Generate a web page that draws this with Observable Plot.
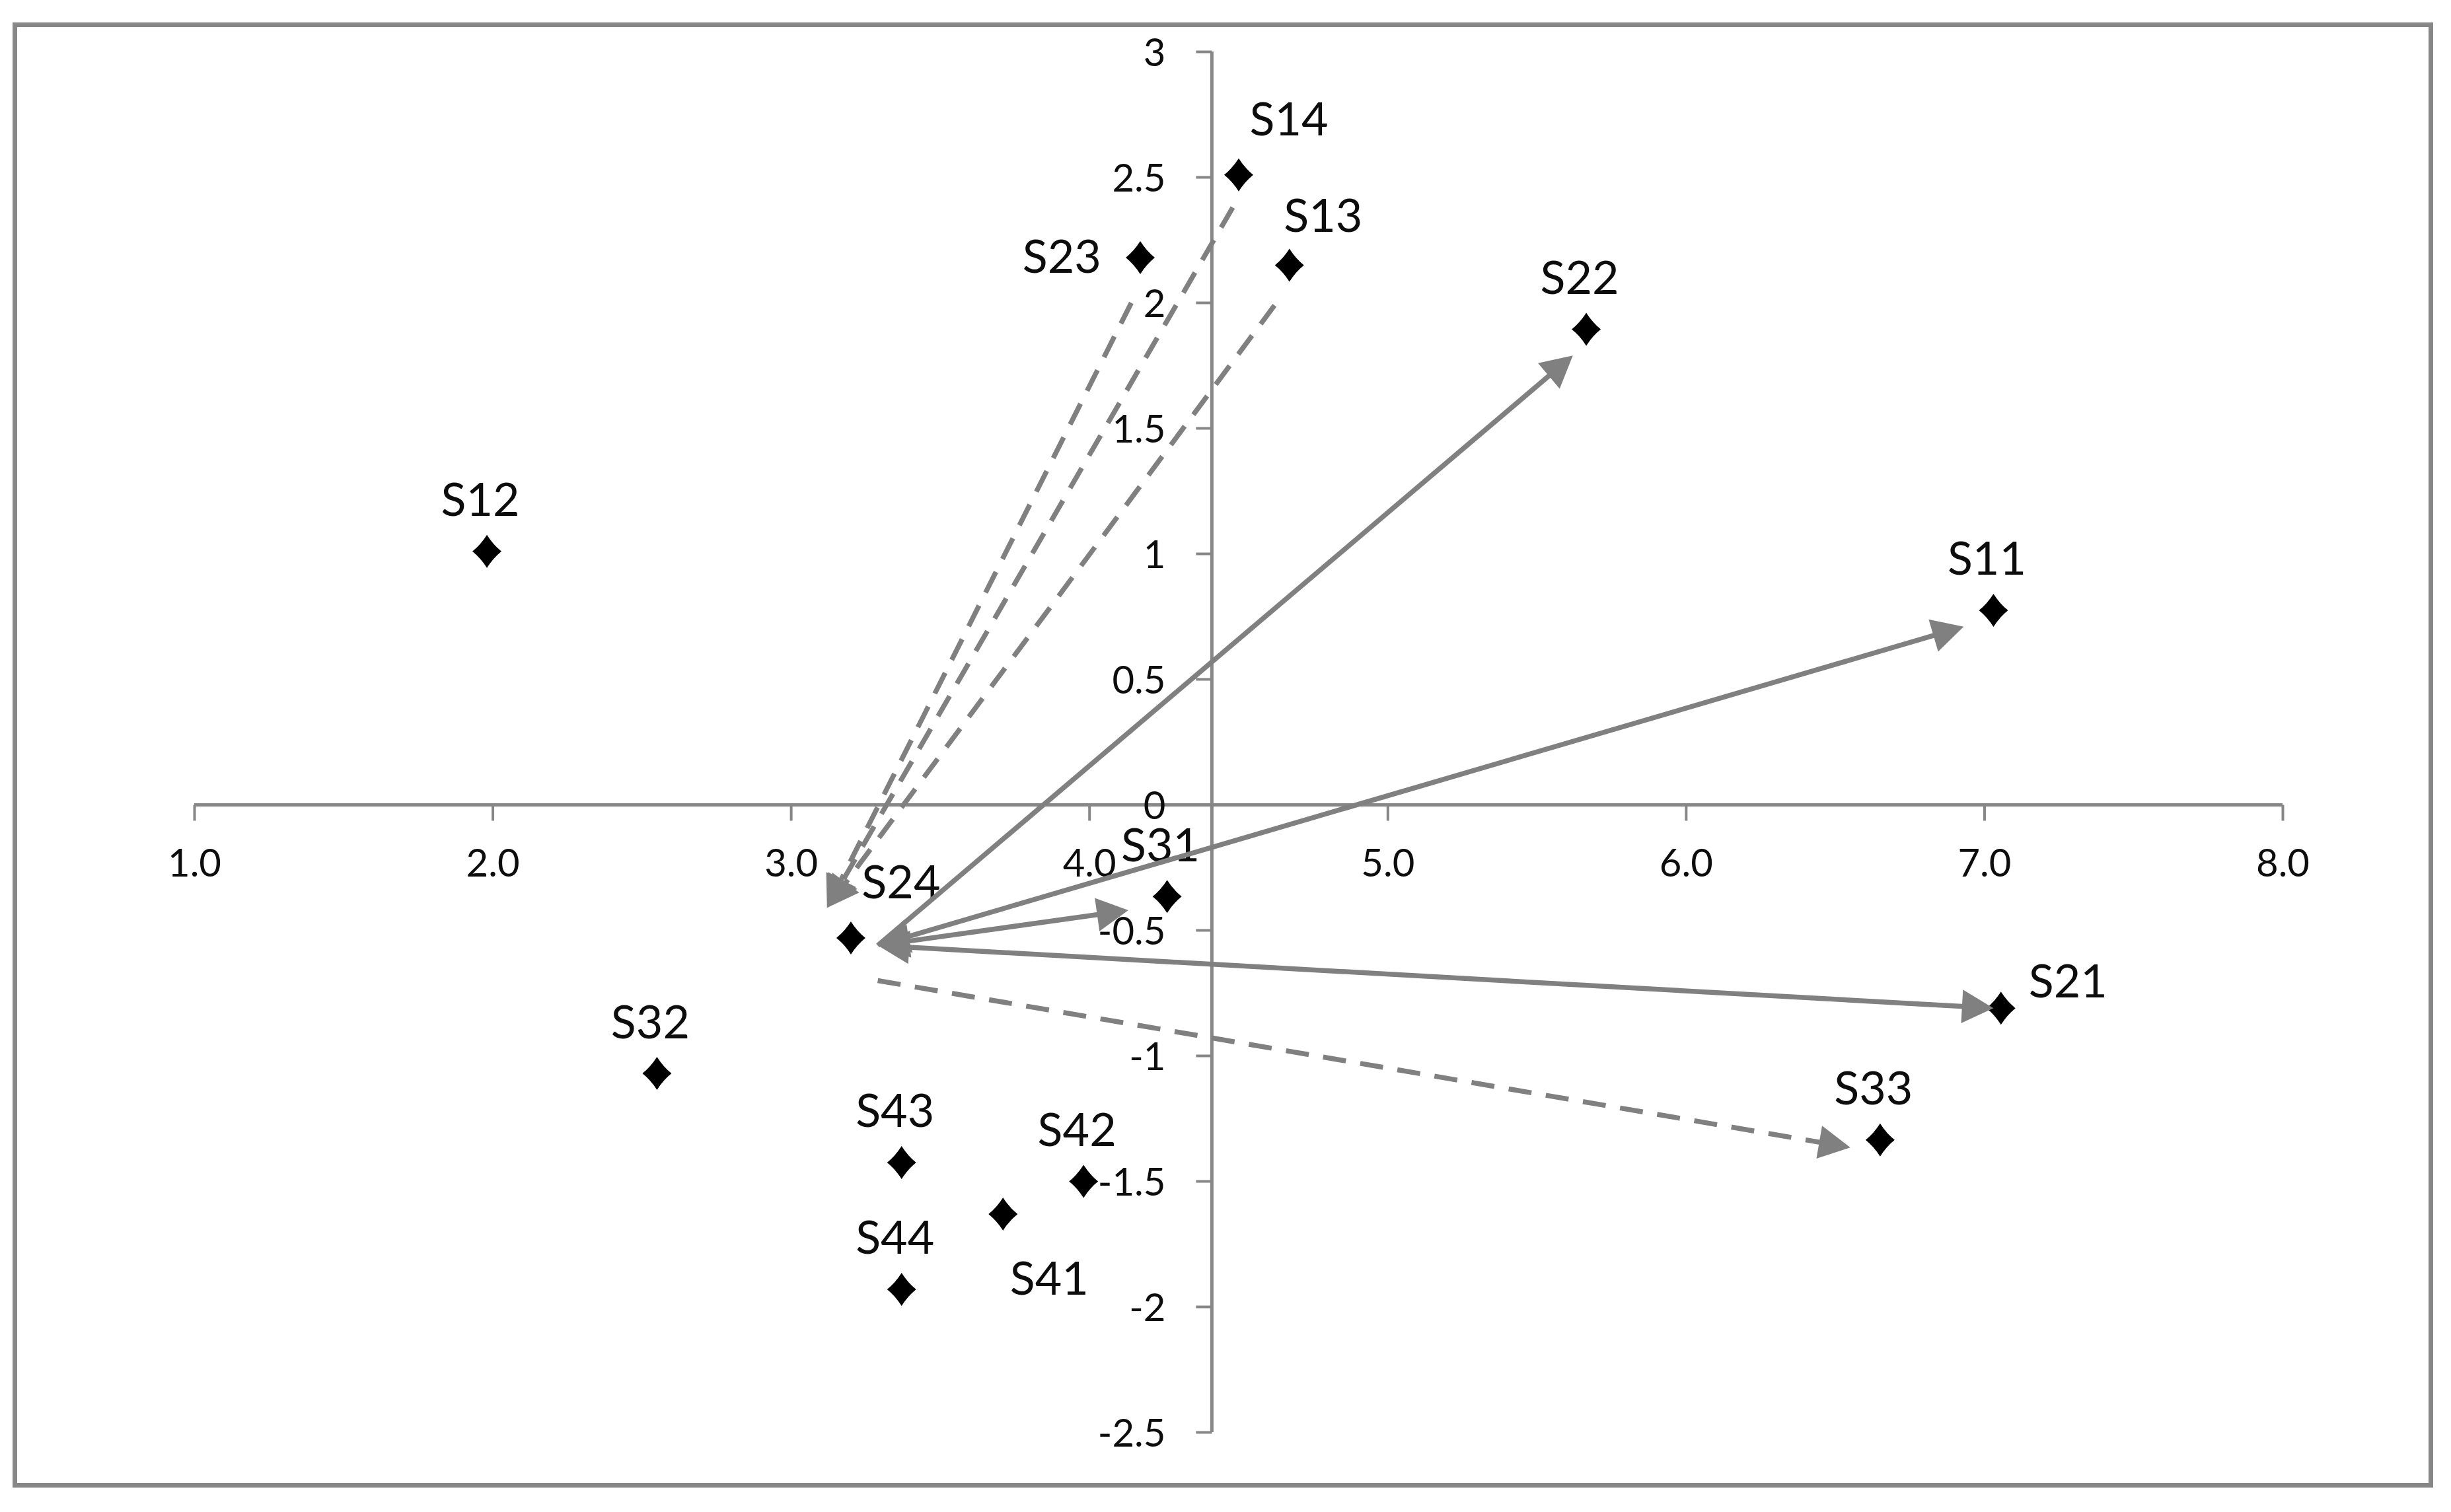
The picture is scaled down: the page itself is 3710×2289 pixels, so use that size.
<!DOCTYPE html>
<html>
<head>
<meta charset="utf-8">
<script src="https://cdn.jsdelivr.net/npm/d3@7"></script>
<script src="https://cdn.jsdelivr.net/npm/@observablehq/plot@0.6"></script>
<style>
  html, body { margin: 0; padding: 0; background: #ffffff; }
  #chart svg { display: block; }
</style>
</head>
<body>
<div id="chart"></div>
<script>
// ---------- data ----------
const pointNames = ["S11", "S12", "S13", "S14", "S21", "S22", "S23", "S24", "S31", "S32", "S33", "S41", "S42", "S43", "S44"];
const pointX     = [7.03,  1.98,  4.67,  4.50,  7.055, 5.665, 4.17,  3.20,  4.26,  2.55,  6.65,  3.71,  3.98,  3.37,  3.37];
const pointY     = [0.775, 1.01,  2.15,  2.51, -0.81,  1.895, 2.18, -0.53, -0.365,-1.07, -1.335,-1.63, -1.50, -1.425,-1.93];

// arrows (start -> end); "double" = arrowhead at both ends
const arrowFromX = [3.29,  3.29,  3.29,  3.29,  4.48,  4.14,  4.62,  3.29];
const arrowFromY = [-0.56, -0.56, -0.56, -0.56, 2.38,  2.00,  1.99, -0.70];
const arrowToX   = [5.62,  6.93,  4.13,  7.03,  3.12,  3.12,  3.12,  6.55];
const arrowToY   = [1.79,  0.71, -0.42, -0.81, -0.41, -0.41, -0.41, -1.365];
const arrowKind  = ["solid", "double", "double", "double", "dashed", "dashed", "dashed", "dashed"];

const xTicks      = [1, 2, 3, 4, 5, 6, 7, 8];
const xTickLabels = ["1.0", "2.0", "3.0", "4.0", "5.0", "6.0", "7.0", "8.0"];
const yTicks      = [3, 2.5, 2, 1.5, 1, 0.5, 0, -0.5, -1, -1.5, -2, -2.5];
const yTickLabels = ["3", "2.5", "2", "1.5", "1", "0.5", "0", "-0.5", "-1", "-1.5", "-2", "-2.5"];
const xDomain = [1, 8];
const yDomain = [-2.5, 3];
const yAxisCrossesAt = 4.41;   // vertical axis crosses the horizontal axis here
const xAxisCrossesAt = 0;

// ---------- tables built from the arrays ----------
const points = pointNames.map((name, i) => ({name, x: pointX[i], y: pointY[i]}));
const arrows = arrowKind.map((kind, i) => ({kind, x1: arrowFromX[i], y1: arrowFromY[i], x2: arrowToX[i], y2: arrowToY[i]}));
const xTickData = xTicks.map((v, i) => ({v, label: xTickLabels[i]}));
const yTickData = yTicks.map((v, i) => ({v, label: yTickLabels[i]}));

// label placement (style, not data)
const placement = {S14: "upRight", S24: "upRight", S13: "upRightNear", S23: "left", S21: "right", S41: "downRight"};
const place = d => placement[d.name] || "above";

// ---------- styles ----------
const axisColor = "#878787";
const arrowColor = "#808080";
const textColor = "#0d0d0d";
const labelSize = 70;
const tickSize = 58;

// custom symbols
const tickDown = {draw(ctx) { ctx.moveTo(0, 0); ctx.lineTo(0, 24); }};
const tickLeft = {draw(ctx) { ctx.moveTo(0, 0); ctx.lineTo(-24, 0); }};
const diamond = {draw(ctx) {
  ctx.moveTo(0, -25);
  ctx.quadraticCurveTo(9.5, -10, 22, 0);
  ctx.quadraticCurveTo(9.5, 10, 0, 25);
  ctx.quadraticCurveTo(-9.5, 10, -22, 0);
  ctx.quadraticCurveTo(-9.5, -10, 0, -25);
  ctx.closePath();
}};

const labelMark = (group, opts) => Plot.text(points.filter(d => place(d) === group), {
  x: "x", y: "y", text: "name", fill: textColor, fontSize: labelSize, ...opts
});

const headOpts = {x1: "x1", y1: "y1", x2: "x2", y2: "y2", stroke: "none", fill: arrowColor, strokeWidth: 1.5, headLength: 54, headAngle: 56};

const chart = Plot.plot({
  width: 3710,
  height: 2289,
  marginLeft: 22,
  marginTop: 37,
  marginRight: 31,
  marginBottom: 41,
  x: {domain: xDomain, range: [294, 3455], axis: null},
  y: {domain: yDomain, range: [2168, 78], axis: null},
  style: {background: "#ffffff", fontFamily: "Lato, 'Open Sans', sans-serif", overflow: "visible"},
  marks: [
    Plot.frame({stroke: axisColor, strokeWidth: 7}),
    // axes crossing inside the plot
    Plot.ruleY([xAxisCrossesAt], {x1: xDomain[0], x2: xDomain[1], stroke: axisColor, strokeWidth: 5}),
    Plot.ruleX([yAxisCrossesAt], {y1: yDomain[0], y2: yDomain[1], stroke: axisColor, strokeWidth: 5}),
    Plot.dot(xTickData, {x: "v", y: () => xAxisCrossesAt, symbol: tickDown, fill: "none", stroke: axisColor, strokeWidth: 4}),
    Plot.dot(yTickData, {x: () => yAxisCrossesAt, y: "v", symbol: tickLeft, fill: "none", stroke: axisColor, strokeWidth: 4}),
    Plot.text(xTickData, {x: "v", y: () => xAxisCrossesAt, text: "label", dy: 90, fontSize: tickSize, fill: textColor}),
    Plot.text(yTickData, {x: () => yAxisCrossesAt, y: "v", text: "label", textAnchor: "end", dx: -70, dy: 3, fontSize: tickSize, fill: textColor}),
    // points
    Plot.dot(points, {x: "x", y: "y", symbol: diamond, fill: "#000000", stroke: "none"}),
    // labels
    labelMark("above", {dx: -10, dy: -76}),
    labelMark("upRight", {dx: 76, dy: -82}),
    labelMark("upRightNear", {dx: 51, dy: -73}),
    labelMark("left", {textAnchor: "end", dx: -59, dy: 0}),
    labelMark("right", {textAnchor: "start", dx: 42, dy: -39}),
    labelMark("downRight", {dx: 70, dy: 100}),
    // arrow shafts
    Plot.arrow(arrows.filter(d => d.kind === "solid"), {x1: "x1", y1: "y1", x2: "x2", y2: "y2", stroke: arrowColor, strokeWidth: 7.5, headLength: 0, insetEnd: 30, strokeLinecap: "butt"}),
    Plot.arrow(arrows.filter(d => d.kind === "double"), {x1: "x1", y1: "y1", x2: "x2", y2: "y2", stroke: arrowColor, strokeWidth: 7.5, headLength: 0, insetStart: 30, insetEnd: 30, strokeLinecap: "butt"}),
    Plot.arrow(arrows.filter(d => d.kind === "dashed"), {x1: "x1", y1: "y1", x2: "x2", y2: "y2", stroke: arrowColor, strokeWidth: 7.5, headLength: 0, insetEnd: 30, strokeLinecap: "butt", strokeDasharray: "35,22"}),
    // arrow heads (filled triangles)
    Plot.arrow(arrows, headOpts),
    Plot.arrow(arrows.filter(d => d.kind === "double"), {...headOpts, x1: "x2", y1: "y2", x2: "x1", y2: "y1"})
  ]
});

document.getElementById("chart").appendChild(chart);
</script>
</body>
</html>
